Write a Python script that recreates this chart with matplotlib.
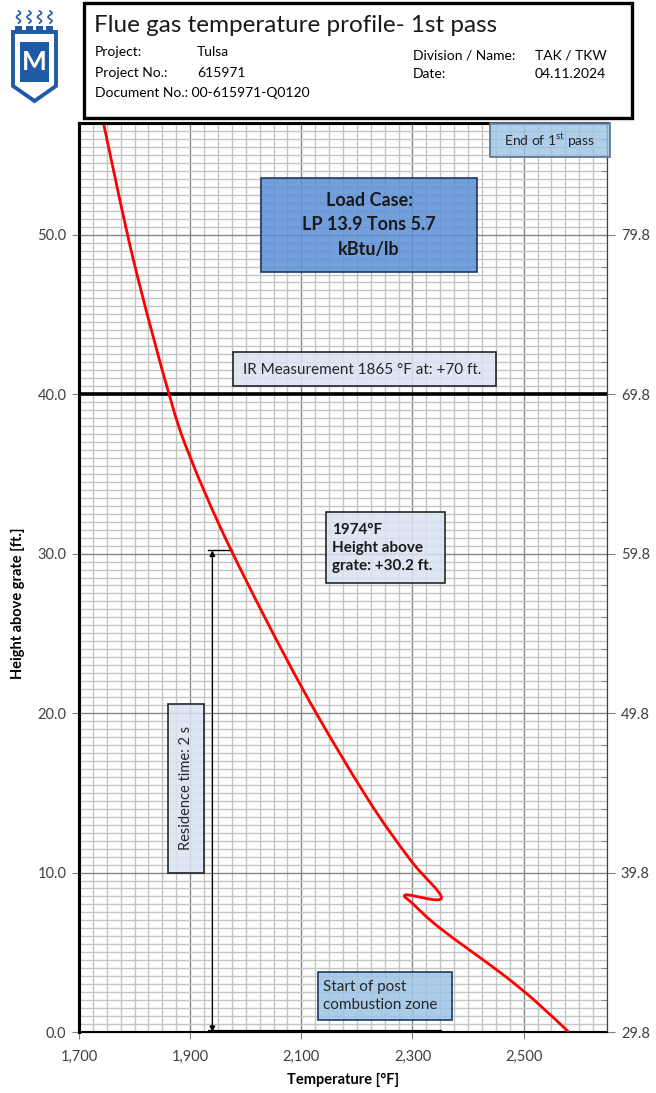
import numpy as np
import matplotlib
matplotlib.use("Agg")
import matplotlib.pyplot as plt
from matplotlib.patches import Rectangle, Polygon, PathPatch
from matplotlib.lines import Line2D
from matplotlib.path import Path
from matplotlib.ticker import MultipleLocator, FuncFormatter

plt.rcParams['font.family'] = ['Lato', 'DejaVu Sans']

# flue gas temperature along the first pass
temp_f = [1744, 1798, 1862, 1900, 1974, 2101, 2218, 2296, 2352,
          2288, 2302, 2350, 2459, 2519, 2581]
height_ft = [57.0, 48.4, 40.0, 36.05, 30.2, 21.6, 14.7, 10.8, 8.4,
             8.6, 8.0, 6.5, 3.7, 2.0, 0.0]

x_ticks = [1700, 1900, 2100, 2300, 2500]
y_ticks = [0, 10, 20, 30, 40, 50]
height_offset = 29.8          # right axis: height above reference level

ir_height = 40.0              # IR measurement level (+70 ft)
res_temp = 1940               # position of residence-time arrow
res_top = 30.2
res_top_temp = 1974
res_tick = [1932, 1975]
pcz_start = [1932, 2353]      # start of post combustion zone marker

W, H = 656, 1093
fig = plt.figure(figsize=(W / 100, H / 100), dpi=100)


def fx(px):
    return px / W


def fy(py):
    return 1 - py / H


def smooth_path(xs, ys):
    # smoothed line like a spreadsheet chart: cubic Bezier through every point
    pts = list(zip(xs, ys))
    verts = [pts[0]]
    codes = [Path.MOVETO]
    n = len(pts)
    for i in range(n - 1):
        p0 = pts[max(i - 1, 0)]
        p1 = pts[i]
        p2 = pts[i + 1]
        p3 = pts[min(i + 2, n - 1)]
        c1 = (p1[0] + (p2[0] - p0[0]) / 6, p1[1] + (p2[1] - p0[1]) / 6)
        c2 = (p2[0] - (p3[0] - p1[0]) / 6, p2[1] - (p3[1] - p1[1]) / 6)
        verts += [c1, c2, p2]
        codes += [Path.CURVE4] * 3
    return Path(verts, codes)


ax = fig.add_axes([fx(79), fy(1032), fx(607) - fx(79), fy(123) - fy(1032)])
ax.set_xlim(1700, 2650)
ax.set_ylim(0, 57)

# grid
ax.xaxis.set_minor_locator(MultipleLocator(25))
ax.yaxis.set_minor_locator(MultipleLocator(0.5))
ax.set_xticks(x_ticks)
ax.set_yticks(y_ticks)
ax.grid(which='minor', color='#c4c4c4', lw=1.0)
ax.grid(which='major', color='#858585', lw=1.0)
ax.set_axisbelow(True)
ax.tick_params(which='minor', length=0)
ax.tick_params(which='major', length=5, direction='out', color='#808080',
               labelsize=10.5, colors='#404040', pad=4)
ax.tick_params(axis='x', pad=8)
ax.xaxis.set_major_formatter(FuncFormatter(lambda v, p: f"{v:,.0f}"))
ax.yaxis.set_major_formatter(FuncFormatter(lambda v, p: f"{v:.1f}"))
for s in ['left', 'top']:
    ax.spines[s].set_linewidth(2.2)
ax.spines['bottom'].set_linewidth(1.5)
ax.spines['right'].set_color('#404040')

ax2 = ax.twinx()
ax2.set_ylim(height_offset, height_offset + 57)
ax2.set_yticks([height_offset + v for v in y_ticks])
ax2.set_yticks([height_offset + v for v in range(2, 57, 2)], minor=True)
ax2.yaxis.set_major_formatter(FuncFormatter(lambda v, p: f"{v:.1f}"))
ax2.tick_params(which='major', length=6, direction='out', color='#808080',
                labelsize=10.5, colors='#404040', pad=4)
ax2.tick_params(which='minor', length=4, direction='in', color='#808080')
ax2.spines['right'].set_color('#404040')
ax2.spines['left'].set_linewidth(2.2)
ax2.spines['top'].set_linewidth(2.2)

# temperature profile
ax.add_patch(PathPatch(smooth_path(temp_f, height_ft), facecolor='none',
                       edgecolor='#ff0000', lw=2.0, joinstyle='round', zorder=5))
ax.axhline(ir_height, color='black', lw=2.6, zorder=4)
ax.plot(pcz_start, [0, 0], color='black', lw=3, solid_capstyle='butt', zorder=4)
ax.plot(res_tick, [res_top, res_top], color='black', lw=1.0, zorder=4)
ax.annotate('', xy=(res_temp, 0), xytext=(res_temp, res_top),
            arrowprops=dict(arrowstyle='<|-|>', color='black', lw=1.0,
                            mutation_scale=8, shrinkA=0, shrinkB=0), zorder=4)

ax.set_xlabel('Temperature [°F]', fontsize=10.5, fontweight='bold', labelpad=6)
fig.text(fx(18), fy(603), 'Height above grate [ft.]', rotation=90, fontsize=10.5,
         fontweight='bold', ha='center', va='center')


def box(x0, y0, x1, y1, fc, ec='#262626', alpha=0.85, lw=1.2):
    fig.add_artist(Rectangle((fx(x0), fy(y1)), fx(x1) - fx(x0), fy(y0) - fy(y1),
                             transform=fig.transFigure, facecolor=fc, edgecolor='none',
                             alpha=alpha, zorder=6))
    fig.add_artist(Rectangle((fx(x0), fy(y1)), fx(x1) - fx(x0), fy(y0) - fy(y1),
                             transform=fig.transFigure, facecolor='none', edgecolor=ec,
                             lw=lw, zorder=7))


box(490, 123, 610, 157, '#9dc3e6', ec='#5a6f8a', alpha=0.8)
fig.text(fx(550), fy(141), 'End of 1$^{\\mathregular{st}}$ pass', fontsize=10,
         ha='center', va='center', color='#262626', zorder=8)

box(261, 178, 477, 272, '#5b8fd6', ec='#1f3864', alpha=0.85)
fig.text(fx(369), fy(225), 'Load Case:\nLP 13.9 Tons 5.7\nkBtu/lb', fontsize=13,
         fontweight='bold', ha='center', va='center', linespacing=1.5,
         color='#1a1a1a', zorder=8)

box(233, 352, 496, 386, '#dae3f3', ec='#262626', alpha=0.85)
fig.text(fx(243), fy(370), 'IR Measurement 1865 °F at: +70 ft.', fontsize=11,
         ha='left', va='center', color='#262626', zorder=8)

box(326, 512, 445, 583, '#dae3f3', ec='#262626', alpha=0.85)
fig.text(fx(332), fy(548), f'{res_top_temp}°F\nHeight above\ngrate: +{res_top} ft.',
         fontsize=11, fontweight='bold', ha='left', va='center', linespacing=1.4,
         color='#1a1a1a', zorder=8)

box(168, 704, 204, 873, '#dae3f3', ec='#262626', alpha=0.85)
fig.text(fx(186), fy(788), 'Residence time: 2 s', fontsize=10.5, rotation=90,
         ha='center', va='center', color='#262626', zorder=8)

box(318, 972, 452, 1020, '#9dc3e6', ec='#1f3864', alpha=0.85)
fig.text(fx(323), fy(996), 'Start of post\ncombustion zone', fontsize=11,
         ha='left', va='center', linespacing=1.3, color='#262626', zorder=8)

# title block
fig.add_artist(Rectangle((fx(84), fy(118)), fx(632) - fx(84), fy(3) - fy(118),
                         transform=fig.transFigure, facecolor='white',
                         edgecolor='black', lw=2.4, zorder=6))
fig.text(fx(94), fy(26), 'Flue gas temperature profile- 1st pass', fontsize=17.5,
         ha='left', va='center', color='#1a1a1a', zorder=8)
for label, value, y in [('Project:', 'Tulsa', 52), ('Project No.:', '615971', 73)]:
    fig.text(fx(95), fy(y), label, fontsize=10, va='center', zorder=8)
    fig.text(fx(197), fy(y), value, fontsize=10, va='center', zorder=8)
fig.text(fx(95), fy(93), 'Document No.: 00-615971-Q0120', fontsize=10,
         va='center', zorder=8)
for label, value, y in [('Division / Name:', 'TAK / TKW', 56), ('Date:', '04.11.2024', 74)]:
    fig.text(fx(413), fy(y), label, fontsize=10, va='center', zorder=8)
    fig.text(fx(535), fy(y), value, fontsize=10, va='center', zorder=8)

# logo: shield with battlements and flames
blue = '#1f5aa6'
shield = [(13, 32), (56, 32), (56, 86), (34.5, 101), (13, 86)]
fig.add_artist(Polygon([(fx(a), fy(b)) for a, b in shield], closed=True,
                       transform=fig.transFigure, facecolor='white',
                       edgecolor=blue, lw=2.8, zorder=6))
fig.add_artist(Rectangle((fx(20), fy(82)), fx(29), fy(42) - fy(82),
                         transform=fig.transFigure, facecolor=blue,
                         edgecolor='none', zorder=7))
fig.text(fx(34.5), fy(62), 'M', fontsize=19, fontweight='bold', color='white',
         ha='center', va='center', zorder=8)
wave = np.linspace(0, 1, 30)
for i in range(4):
    x0 = 15 + i * 10.5
    fig.add_artist(Rectangle((fx(x0), fy(33)), fx(7), fy(26) - fy(33),
                             transform=fig.transFigure, facecolor=blue,
                             edgecolor='none', zorder=7))
    fx_w = [fx(x0 + 3.5 + 2 * np.sin(t * 3 * np.pi)) for t in wave]
    fy_w = [fy(23 - 12 * t) for t in wave]
    fig.add_artist(Line2D(fx_w, fy_w, transform=fig.transFigure, color=blue,
                          lw=1.2, zorder=7))

fig.savefig('out.png', dpi=100)
